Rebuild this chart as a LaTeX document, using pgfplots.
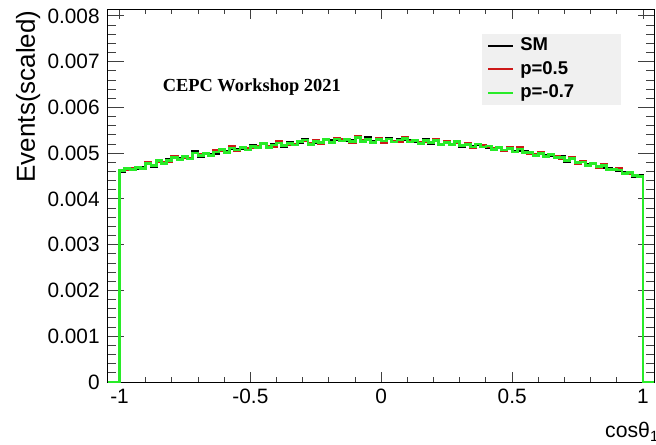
\documentclass[border=0pt]{standalone}
\usepackage{fontspec}
\setmainfont{Liberation Sans}
\newfontfamily\titlefont{Liberation Serif}
\usepackage{pgfplots}
\usepackage{pgfplotstable}
\pgfplotsset{compat=1.18}
\definecolor{rootred}{RGB}{205,25,25}
\definecolor{rootgreen}{RGB}{40,235,40}
\definecolor{legendgray}{RGB}{240,240,240}
\pgfplotstableread{
x sm p05 pm07
-1.046 0 0 0
-1.00 0.004599 0.004624 0.004614
-0.98 0.004668 0.004638 0.004658
-0.96 0.004641 0.004666 0.004641
-0.94 0.004668 0.004698 0.004693
-0.92 0.004694 0.004659 0.004674
-0.90 0.004775 0.004800 0.004770
-0.88 0.004706 0.004736 0.004736
-0.86 0.004851 0.004811 0.004836
-0.84 0.004770 0.004790 0.004770
-0.82 0.004863 0.004828 0.004838
-0.80 0.004901 0.004926 0.004911
-0.78 0.004879 0.004864 0.004859
-0.76 0.004906 0.004896 0.004926
-0.74 0.004877 0.004897 0.004872
-0.72 0.005037 0.005007 0.005007
-0.70 0.004937 0.004972 0.004952
-0.68 0.005002 0.004987 0.005002
-0.66 0.004971 0.004956 0.004946
-0.64 0.004999 0.005059 0.005029
-0.62 0.005086 0.005056 0.005076
-0.60 0.005038 0.005028 0.005023
-0.58 0.005110 0.005140 0.005115
-0.56 0.005091 0.005061 0.005071
-0.54 0.005106 0.005131 0.005131
-0.52 0.005070 0.005105 0.005070
-0.50 0.005179 0.005129 0.005144
-0.48 0.005113 0.005143 0.005123
-0.46 0.005211 0.005201 0.005206
-0.44 0.005113 0.005143 0.005133
-0.42 0.005194 0.005154 0.005179
-0.40 0.005225 0.005255 0.005225
-0.38 0.005146 0.005181 0.005176
-0.36 0.005241 0.005196 0.005216
-0.34 0.005190 0.005195 0.005180
-0.32 0.005233 0.005248 0.005248
-0.30 0.005296 0.005281 0.005291
-0.28 0.005214 0.005219 0.005194
-0.26 0.005236 0.005281 0.005261
-0.24 0.005242 0.005212 0.005242
-0.22 0.005307 0.005297 0.005292
-0.20 0.005272 0.005227 0.005242
-0.18 0.005302 0.005322 0.005312
-0.16 0.005271 0.005296 0.005266
-0.14 0.005284 0.005304 0.005304
-0.12 0.005276 0.005231 0.005251
-0.10 0.005348 0.005363 0.005348
-0.08 0.005250 0.005290 0.005265
-0.06 0.005336 0.005291 0.005301
-0.04 0.005251 0.005246 0.005241
-0.02 0.005300 0.005325 0.005305
0.00 0.005244 0.005239 0.005269
0.02 0.005328 0.005313 0.005313
0.04 0.005246 0.005261 0.005246
0.06 0.005308 0.005263 0.005288
0.08 0.005309 0.005349 0.005319
0.10 0.005275 0.005255 0.005245
0.12 0.005251 0.005266 0.005271
0.14 0.005216 0.005231 0.005211
0.16 0.005295 0.005265 0.005280
0.18 0.005208 0.005238 0.005238
0.20 0.005286 0.005301 0.005276
0.22 0.005199 0.005179 0.005199
0.24 0.005266 0.005251 0.005241
0.26 0.005182 0.005202 0.005197
0.28 0.005262 0.005227 0.005257
0.30 0.005147 0.005182 0.005167
0.32 0.005222 0.005212 0.005192
0.34 0.005146 0.005126 0.005136
0.36 0.005199 0.005204 0.005204
0.38 0.005156 0.005161 0.005136
0.40 0.005133 0.005143 0.005158
0.42 0.005080 0.005110 0.005080
0.44 0.005136 0.005126 0.005121
0.46 0.005061 0.005051 0.005071
0.48 0.005135 0.005120 0.005110
0.50 0.005034 0.005029 0.005029
0.52 0.005063 0.005118 0.005093
0.54 0.005031 0.005006 0.005011
0.56 0.005013 0.004988 0.005013
0.58 0.004939 0.004969 0.004954
0.60 0.005000 0.005010 0.004990
0.62 0.004951 0.004916 0.004926
0.64 0.004951 0.004971 0.004971
0.66 0.004905 0.004930 0.004900
0.68 0.004933 0.004888 0.004903
0.70 0.004826 0.004841 0.004836
0.72 0.004889 0.004909 0.004889
0.74 0.004776 0.004776 0.004801
0.76 0.004822 0.004817 0.004807
0.78 0.004757 0.004737 0.004737
0.80 0.004767 0.004787 0.004772
0.82 0.004717 0.004687 0.004707
0.84 0.004696 0.004751 0.004726
0.86 0.004669 0.004649 0.004644
0.88 0.004651 0.004641 0.004651
0.90 0.004618 0.004663 0.004633
0.92 0.004575 0.004555 0.004555
0.94 0.004576 0.004556 0.004571
0.96 0.004496 0.004526 0.004506
0.98 0.004515 0.004495 0.004500
1.00 0 0 0
1.042 0 0 0
}\histdata
\begin{document}
\begin{tikzpicture}
\useasboundingbox (0,0) rectangle (328pt,222pt);
\begin{axis}[
  at={(53.75pt,31pt)}, anchor=south west,
  scale only axis, width=273.25pt, height=186.35pt,
  xmin=-1.046, xmax=1.042, ymin=0, ymax=0.008146,
  xtick={-1,-0.5,0,0.5,1}, minor x tick num=4,
  ytick={0,0.001,0.002,0.003,0.004,0.005,0.006,0.007,0.008}, minor y tick num=4,
  scaled y ticks=false,
  /pgf/number format/assume math mode=true,
  yticklabel style={/pgf/number format/fixed, /pgf/number format/precision=3, inner sep=0pt, xshift=-3.75pt},
  xticklabel style={inner sep=0pt, yshift=-3.5pt},
  ticklabel style={font=\fontsize{10.4}{12}\selectfont},
  tick align=inside,
  axis line style={line width=0.5pt},
  tick style={line width=0.5pt, black!75},
  major tick length=5pt, minor tick length=2.5pt,
  ytick style={/pgfplots/major tick length=8pt, /pgfplots/minor tick length=4pt},
  clip=false,
  ylabel={Events(scaled)},
  ylabel style={at={(rel axis cs:-0.1327,0.998)}, anchor=base east, inner sep=0pt, font=\fontsize{13}{15}\selectfont},
  xlabel={cosθ\textsubscript{1}},
  xlabel style={at={(rel axis cs:0.910,-0.150)}, anchor=base west, inner sep=0pt, font=\fontsize{10.6}{12}\selectfont},
  legend style={at={(rel axis cs:0.685,0.936)}, anchor=north west, draw=none, fill=legendgray,
    inner xsep=2.5pt, inner ysep=1.5pt, row sep=2.75pt, column sep=3pt,
    nodes={inner sep=0pt, text height=7pt, text depth=2pt},
    font=\fontsize{9.25}{11}\selectfont\bfseries},
  legend cell align=left,
  legend image code/.code={\draw[#1, line width=1pt] (0pt,0pt) -- (12.5pt,0pt);},
]
\addplot[const plot, black, line width=1.4pt] table[x=x, y=sm] {\histdata};
\addlegendentry{\makebox[48pt][l]{SM}}
\addplot[const plot, rootred, line width=1.4pt] table[x=x, y=p05] {\histdata};
\addlegendentry{\makebox[48pt][l]{p=0.5}}
\addplot[const plot, rootgreen, line width=1.4pt] table[x=x, y=pm07] {\histdata};
\addlegendentry{\makebox[48pt][l]{p=-0.7}}
\node[font=\fontsize{9.2}{11}\selectfont\titlefont\bfseries] at (rel axis cs:0.264,0.792) {CEPC Workshop 2021};
\end{axis}
\end{tikzpicture}
\end{document}
